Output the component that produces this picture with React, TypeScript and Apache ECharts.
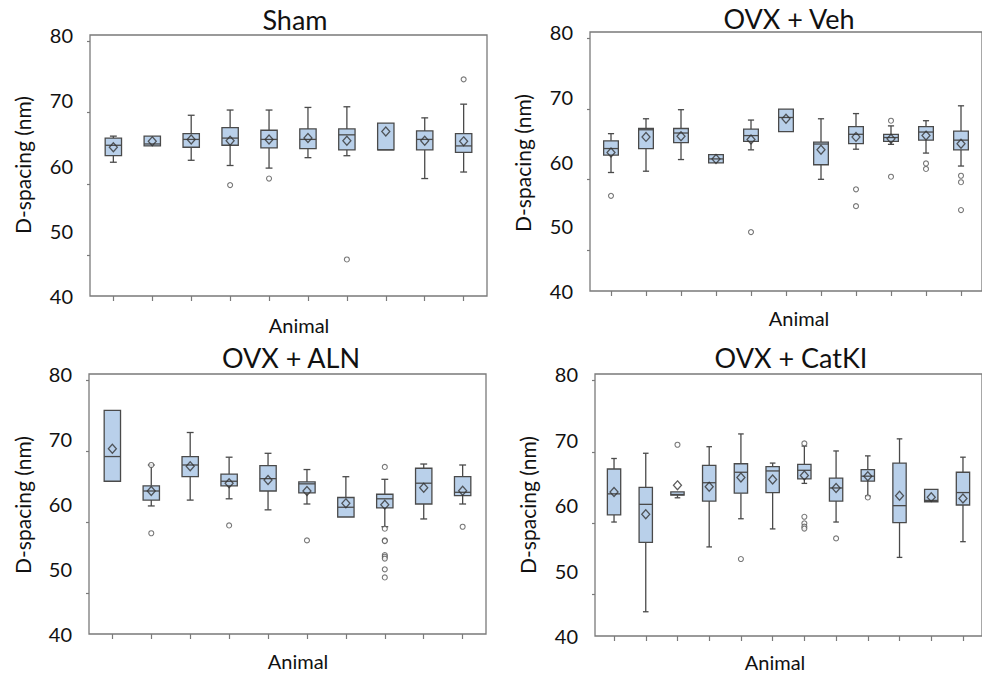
import React, { useEffect, useRef } from "react";
import * as echarts from "echarts";

// Box rows: [animal, whiskerLow, q1, median, q3, whiskerHigh]
const shamBoxes = [
  [1, 60.5, 61.5, 63.1, 64.2, 64.5],
  [2, 63.0, 63.0, 63.3, 64.5, 64.5],
  [3, 60.8, 62.8, 64.0, 64.9, 67.7],
  [4, 60.0, 63.1, 64.2, 65.8, 68.5],
  [5, 59.6, 62.7, 64.0, 65.4, 68.5],
  [6, 61.2, 62.6, 64.0, 65.6, 68.9],
  [7, 61.5, 62.4, 64.7, 65.6, 69.0],
  [8, 62.4, 62.4, 62.4, 66.5, 66.5],
  [9, 58.0, 62.4, 64.0, 65.3, 67.3],
  [10, 59.0, 62.0, 63.0, 64.9, 69.4],
];
const shamMeans = [62.8, 63.7, 64.0, 63.8, 64.0, 64.2, 63.8, 65.2, 63.8, 63.7];
const shamOutliers = [[4, 57.0], [5, 58.0], [7, 45.6], [10, 73.2]];

const vehBoxes = [
  [1, 58.3, 61.0, 62.0, 63.2, 64.3],
  [2, 58.5, 62.0, 64.9, 65.1, 66.6],
  [3, 60.3, 62.9, 64.4, 65.1, 68.0],
  [4, 59.8, 59.8, 60.4, 61.05, 61.05],
  [5, 61.8, 63.1, 64.0, 65.0, 66.4],
  [6, 64.6, 64.6, 66.8, 68.1, 68.1],
  [7, 57.25, 59.5, 62.7, 63.0, 66.6],
  [8, 61.9, 62.75, 64.2, 65.4, 67.4],
  [9, 62.65, 63.1, 63.7, 64.2, 65.5],
  [10, 61.3, 63.3, 64.55, 65.4, 66.3],
  [11, 59.3, 61.8, 63.3, 64.7, 68.6],
];
const vehMeans = [61.4, 63.8, 63.9, 60.4, 63.4, 66.6, 61.8, 63.8, 63.5, 64.0, 62.75];
const vehOutliers = [
  [1, 54.7], [5, 49.1], [8, 55.7], [8, 53.1], [9, 66.3], [9, 57.65],
  [10, 59.7], [10, 58.85], [11, 57.8], [11, 56.8], [11, 52.5],
];

const alnBoxes = [
  [1, 63.5, 63.5, 67.3, 74.4, 74.4],
  [2, 59.7, 60.6, 62.0, 62.8, 66.0],
  [3, 60.6, 64.2, 66.0, 67.3, 71.0],
  [4, 60.8, 62.8, 63.5, 64.6, 67.2],
  [5, 59.1, 62.0, 63.9, 65.9, 67.8],
  [6, 60.0, 61.7, 63.1, 63.4, 65.3],
  [7, 58.0, 58.0, 59.5, 61.0, 64.2],
  [8, 56.5, 59.4, 60.8, 61.5, 63.8],
  [9, 57.7, 60.0, 63.2, 65.5, 66.15],
  [10, 60.0, 61.3, 61.8, 64.2, 66.0],
];
const alnMeans = [68.5, 62.0, 65.8, 63.2, 63.7, 62.0, 60.1, 59.9, 62.5, 62.05];
const alnOutliers = [
  [2, 66.0], [2, 55.5], [4, 56.7], [6, 54.4], [8, 65.7], [8, 56.2], [8, 54.4],
  [8, 54.3], [8, 52.15], [8, 51.9], [8, 51.6], [8, 49.95], [8, 48.7], [10, 56.5],
];

const catBoxes = [
  [1, 57.4, 58.5, 61.7, 65.5, 67.1],
  [2, 43.7, 54.3, 60.1, 62.7, 67.9],
  [3, 61.1, 61.5, 61.6, 62.0, 62.0],
  [4, 53.6, 60.6, 63.4, 66.05, 68.9],
  [5, 57.9, 61.8, 65.0, 66.3, 70.85],
  [6, 56.35, 61.9, 65.2, 65.85, 66.4],
  [7, 63.3, 64.0, 65.3, 66.2, 69.0],
  [8, 57.4, 60.6, 62.6, 64.1, 68.25],
  [9, 61.35, 63.65, 64.4, 65.4, 67.5],
  [10, 52.0, 57.3, 59.9, 66.4, 70.1],
  [11, 60.5, 60.5, 60.7, 62.4, 62.4],
  [12, 54.4, 60.0, 61.9, 65.0, 67.3],
];
const catMeans = [62.0, 58.6, 63.0, 62.8, 64.2, 63.9, 64.5, 62.6, 64.4, 61.4, 61.2, 61.0];
const catOutliers = [
  [3, 69.2], [5, 51.75], [7, 69.4], [7, 58.2], [7, 57.2], [7, 56.7], [7, 56.4],
  [8, 54.9], [9, 61.15],
];

const panelTitles = ["Sham", "OVX + Veh", "OVX + ALN", "OVX + CatKI"];
const yTickLabels = [40, 50, 60, 70, 80];
const yTickMarks = [46.3, 57.2, 68.1, 79.0];
const yAxisTitle = "D-spacing (nm)";
const xAxisTitle = "Animal";

const FONT = "Lato, 'Open Sans', sans-serif";
const BOX_FILL = "#b9d0ea";
const INK = "#4a4a4a";
const FRAME = "#7a7a7a";

const panels = [
  { boxes: shamBoxes, means: shamMeans, outliers: shamOutliers, title: panelTitles[0],
    grid: { left: 90, top: 35, width: 397, height: 261 },
    titlePos: [295, 19], animalPos: [299, 325], yNamePos: [22, 165] },
  { boxes: vehBoxes, means: vehMeans, outliers: vehOutliers, title: panelTitles[1],
    grid: { left: 590, top: 32, width: 397, height: 259 },
    titlePos: [789, 18], animalPos: [799, 318], yNamePos: [522, 163] },
  { boxes: alnBoxes, means: alnMeans, outliers: alnOutliers, title: panelTitles[2],
    grid: { left: 89, top: 374, width: 397, height: 260 },
    titlePos: [291, 357], animalPos: [298, 661], yNamePos: [22, 505] },
  { boxes: catBoxes, means: catMeans, outliers: catOutliers, title: panelTitles[3],
    grid: { left: 595, top: 374, width: 397, height: 262 },
    titlePos: [791, 357], animalPos: [775, 662], yNamePos: [527, 505] },
];

function renderBox(params: any, api: any) {
  const x = api.value(0);
  const lo = api.value(1);
  const q1 = api.value(2);
  const med = api.value(3);
  const q3 = api.value(4);
  const hi = api.value(5);
  const band = api.size([1, 0])[0];
  const bw = band * 0.42;
  const cw = bw * 0.42;
  const pLo = api.coord([x, lo]);
  const pQ1 = api.coord([x, q1]);
  const pMed = api.coord([x, med]);
  const pQ3 = api.coord([x, q3]);
  const pHi = api.coord([x, hi]);
  const cx = pLo[0];
  const ls = { stroke: INK, lineWidth: 1.3, fill: null };
  const children: any[] = [];
  if (pHi[1] < pQ3[1] - 0.5) {
    children.push({ type: "line", shape: { x1: cx, y1: pHi[1], x2: cx, y2: pQ3[1] }, style: ls });
    children.push({ type: "line", shape: { x1: cx - cw / 2, y1: pHi[1], x2: cx + cw / 2, y2: pHi[1] }, style: ls });
  }
  if (pLo[1] > pQ1[1] + 0.5) {
    children.push({ type: "line", shape: { x1: cx, y1: pQ1[1], x2: cx, y2: pLo[1] }, style: ls });
    children.push({ type: "line", shape: { x1: cx - cw / 2, y1: pLo[1], x2: cx + cw / 2, y2: pLo[1] }, style: ls });
  }
  children.push({
    type: "rect",
    shape: { x: cx - bw / 2, y: pQ3[1], width: bw, height: pQ1[1] - pQ3[1] },
    style: { fill: BOX_FILL, stroke: INK, lineWidth: 1.3 },
  });
  children.push({ type: "line", shape: { x1: cx - bw / 2, y1: pMed[1], x2: cx + bw / 2, y2: pMed[1] }, style: ls });
  return { type: "group", children };
}

export default function App() {
  const ref = useRef<HTMLDivElement>(null);
  useEffect(() => {
    if (!ref.current) return;
    const chart = echarts.init(ref.current, undefined, { renderer: "svg" });
    const grids: any[] = [];
    const xAxes: any[] = [];
    const yAxes: any[] = [];
    const series: any[] = [];
    const graphics: any[] = [];
    panels.forEach((p, i) => {
      const n = p.boxes.length;
      grids.push({ ...p.grid, show: true, borderColor: FRAME, borderWidth: 1.3, backgroundColor: "transparent" });
      xAxes.push({
        gridIndex: i, type: "value", min: 0.4, max: n + 0.6,
        axisLine: { show: false }, splitLine: { show: false },
        axisLabel: { show: false },
        axisTick: { show: true, length: 5, customValues: p.boxes.map((b) => b[0]), lineStyle: { color: FRAME, width: 1.2 } },
      });
      yAxes.push({
        gridIndex: i, type: "value", min: 40, max: 80,
        axisLine: { show: false }, splitLine: { show: false },
        axisLabel: { customValues: yTickLabels, fontSize: 20, color: "#111", margin: 17, fontFamily: FONT },
        axisTick: { show: true, length: 3, customValues: yTickMarks, lineStyle: { color: FRAME, width: 1.2 } },
      });
      series.push({
        type: "custom", xAxisIndex: i, yAxisIndex: i,
        renderItem: renderBox,
        encode: { x: 0, y: [1, 2, 3, 4, 5] },
        data: p.boxes,
        z: 2,
      });
      series.push({
        type: "scatter", xAxisIndex: i, yAxisIndex: i,
        symbol: "diamond", symbolSize: [8, 9],
        itemStyle: { color: "rgba(0,0,0,0)", borderColor: "#333", borderWidth: 1.3 },
        data: p.means.map((m, k) => [p.boxes[k][0], m]),
        z: 3,
      });
      series.push({
        type: "scatter", xAxisIndex: i, yAxisIndex: i,
        symbol: "circle", symbolSize: 5,
        itemStyle: { color: "#fff", borderColor: "#555", borderWidth: 1.1 },
        data: p.outliers,
        z: 3,
      });
      graphics.push({
        type: "text", x: p.titlePos[0], y: p.titlePos[1],
        style: { text: p.title, fontSize: 27, fontFamily: FONT, fill: "#111", align: "center", verticalAlign: "middle" },
      });
      graphics.push({
        type: "text", x: p.animalPos[0], y: p.animalPos[1],
        style: { text: xAxisTitle, fontSize: 20, fontFamily: FONT, fill: "#111", align: "center", verticalAlign: "middle" },
      });
      graphics.push({
        type: "text", x: p.yNamePos[0], y: p.yNamePos[1], rotation: Math.PI / 2,
        style: { text: yAxisTitle, fontSize: 21, fontFamily: FONT, fill: "#111", align: "center", verticalAlign: "middle" },
      });
    });
    chart.setOption({
      animation: false,
      backgroundColor: "#fff",
      grid: grids,
      xAxis: xAxes,
      yAxis: yAxes,
      series,
      graphic: graphics,
    });
    return () => chart.dispose();
  }, []);
  return <div ref={ref} style={{ position: "fixed", left: 0, top: 0, width: 982, height: 674 }} />;
}
